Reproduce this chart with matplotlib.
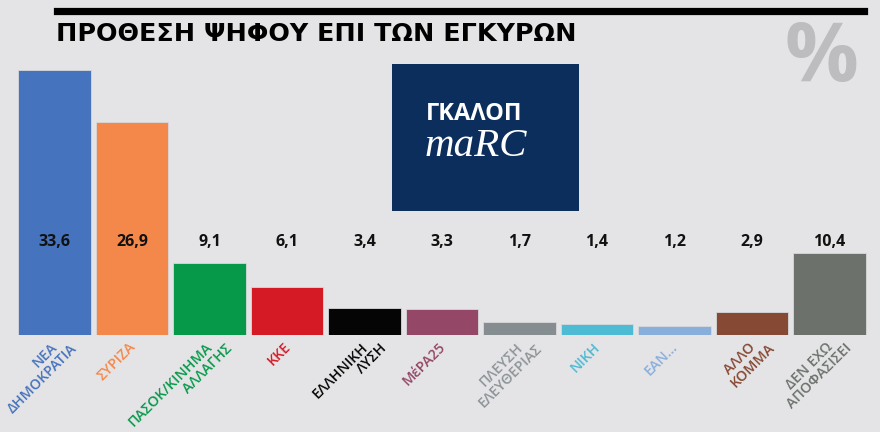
import numpy as np
import matplotlib.pyplot as plt
from matplotlib.patches import Rectangle
from matplotlib.lines import Line2D
from matplotlib.transforms import offset_copy

parties = ['ΝΕΑ\nΔΗΜΟΚΡΑΤΙΑ', 'ΣΥΡΙΖΑ', 'ΠΑΣΟΚ/ΚΙΝΗΜΑ\nΑΛΛΑΓΗΣ', 'ΚΚΕ',
           'ΕΛΛΗΝΙΚΗ\nΛΥΣΗ', 'ΜέΡΑ25', 'ΠΛΕΥΣΗ\nΕΛΕΥΘΕΡΙΑΣ', 'ΝΙΚΗ',
           'ΕΑΝ...', 'ΑΛΛΟ\nΚΟΜΜΑ', 'ΔΕΝ ΕΧΩ\nΑΠΟΦΑΣΙΣΕΙ']
values = [33.6, 26.9, 9.1, 6.1, 3.4, 3.3, 1.7, 1.4, 1.2, 2.9, 10.4]
colors = ['#4673bd', '#f4884b', '#07994a', '#d51a26', '#050505', '#944766',
          '#858d90', '#4dbbd3', '#88aedc', '#864934', '#6d716c']
label_colors = ['#4673bd', '#f4884b', '#07994a', '#d51a26', '#050505', '#944766',
                '#8d9396', '#4dbbd3', '#88aedc', '#864934', '#6d716c']

bg = '#e4e4e6'
W, H = 880, 432

fig = plt.figure(figsize=(8.8, 4.32), dpi=100, facecolor=bg)

# bars
ax = fig.add_axes([15.7/W, 97/H, 852.5/W, 316/H])
ax.set_facecolor(bg)
x = np.arange(len(values))
ax.bar(x, values, width=0.94, color=colors, edgecolor='#d8d8da', linewidth=0.6)
ax.set_xlim(-0.5, len(values) - 0.5)
ax.set_ylim(0, 40)
for s in ax.spines.values():
    s.set_visible(False)
ax.set_xticks([])
ax.set_yticks([])

# rotated party names, each line stepped to the right (points = pixels * 0.72)
base = ax.get_xaxis_transform()
for i, (name, c) in enumerate(zip(parties, label_colors)):
    for k, line in enumerate(name.split('\n')):
        tr = offset_copy(base, fig=fig, x=(-4 + 19*k)*0.72, y=(-5 - 1*k)*0.72, units='points')
        ax.text(i, 0, line, transform=tr, rotation=45, rotation_mode='anchor',
                ha='right', va='top', fontsize=10.3, family='Open Sans',
                fontweight='semibold', color=c, clip_on=False)

for i, v in enumerate(values):
    ax.text(i, 11.8, f'{v:.1f}'.replace('.', ','), ha='center', va='center',
            fontsize=11.5, fontweight='bold', family='Open Sans', color='#111111')

# header
fig.add_artist(Line2D([57/W, 864/W], [1 - 10.5/H, 1 - 10.5/H], color='black', lw=5.2))
fig.text(56/W, 1 - 34/H, 'ΠΡΟΘΕΣΗ ΨΗΦΟΥ ΕΠΙ ΤΩΝ ΕΓΚΥΡΩΝ', ha='left', va='center',
         fontsize=18.3, fontweight='bold', family='DejaVu Sans', color='black')
fig.text(821/W, 1 - 60/H, '%', ha='center', va='center', fontsize=59,
         fontweight='bold', family='Open Sans', color='#bdbdbf')

# logo
fig.add_artist(Rectangle((392/W, 1 - 211/H), 187/W, 147/H, transform=fig.transFigure,
                         facecolor='#0c2e5c', edgecolor='none'))
fig.text(426/W, 1 - 114/H, 'ΓΚΑΛΟΠ', ha='left', va='center', fontsize=17,
         fontweight='bold', family='Open Sans', color='white')
fig.text(425/W, 1 - 146/H, 'maRC', ha='left', va='center', fontsize=29.5,
         style='italic', family='Liberation Serif', color='white')

fig.savefig('out.png', dpi=100, facecolor=bg)
